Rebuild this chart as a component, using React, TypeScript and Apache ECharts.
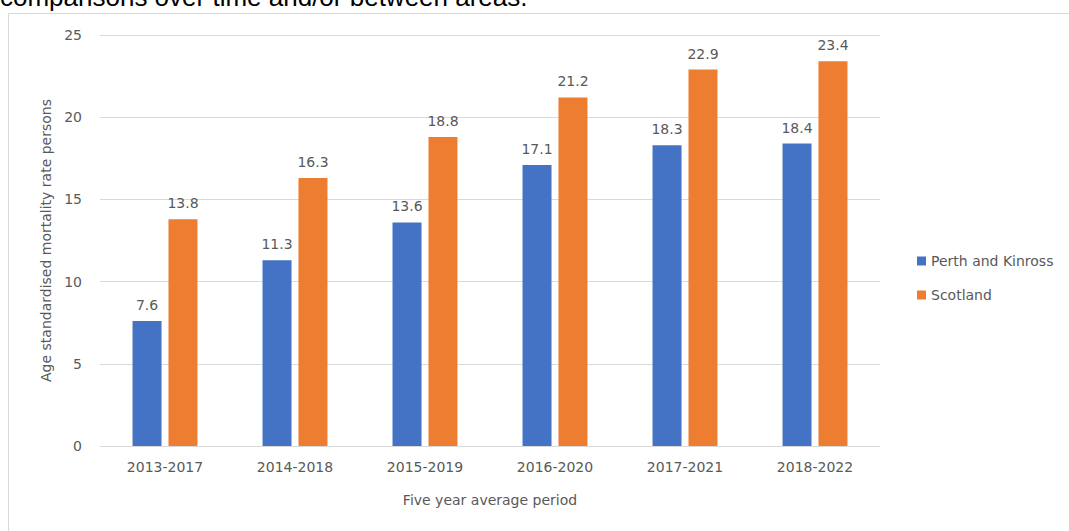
import React, { useEffect, useRef } from "react";
import * as echarts from "echarts";

const categories = ["2013-2017", "2014-2018", "2015-2019", "2016-2020", "2017-2021", "2018-2022"];
const perthKinross = [7.6, 11.3, 13.6, 17.1, 18.3, 18.4];
const scotland = [13.8, 16.3, 18.8, 21.2, 22.9, 23.4];
const seriesNames = ["Perth and Kinross", "Scotland"];
const headingText = "comparisons over time and/or between areas.";

export default function App() {
  const ref = useRef<HTMLDivElement>(null);
  useEffect(() => {
    if (!ref.current) return;
    const chart = echarts.init(ref.current, null, { renderer: "svg" });
    const font = "'DejaVu Sans', sans-serif";
    const labelStyle = { color: "#595959", fontSize: 14, fontFamily: font };
    chart.setOption({
      animation: false,
      backgroundColor: "#ffffff",
      textStyle: { fontFamily: font },
      graphic: [
        {
          type: "rect",
          shape: { x: 8.5, y: 13.5, width: 1100, height: 600 },
          style: { fill: "none", stroke: "#d9d9d9", lineWidth: 1 },
          silent: true,
        },
        {
          type: "text",
          x: 0,
          y: 10,
          style: {
            text: headingText,
            font: "26px 'Liberation Sans', Arial, sans-serif",
            fill: "#000000",
            textVerticalAlign: "bottom",
          },
        },
      ],
      legend: {
        orient: "vertical",
        left: 912,
        top: 249,
        itemWidth: 9,
        itemHeight: 9,
        itemGap: 20,
        icon: "rect",
        textStyle: labelStyle,
        data: seriesNames,
      },
      grid: { left: 100, right: 189, top: 35, bottom: 85 },
      xAxis: {
        type: "category",
        data: categories,
        axisLine: { lineStyle: { color: "#d9d9d9" } },
        axisTick: { show: false },
        axisLabel: { ...labelStyle, margin: 14 },
        name: "Five year average period",
        nameLocation: "middle",
        nameGap: 47,
        nameTextStyle: labelStyle,
      },
      yAxis: {
        type: "value",
        min: 0,
        max: 25,
        interval: 5,
        axisLine: { show: false },
        axisTick: { show: false },
        splitLine: { lineStyle: { color: "#d9d9d9" } },
        axisLabel: { ...labelStyle, margin: 18 },
        name: "Age standardised mortality rate persons",
        nameLocation: "middle",
        nameGap: 46,
        nameRotate: 90,
        nameTextStyle: labelStyle,
      },
      series: [
        {
          name: seriesNames[0],
          type: "bar",
          data: perthKinross,
          barWidth: 29,
          barGap: "24%",
          itemStyle: { color: "#4472C4" },
          label: { show: true, position: "top", distance: 9, ...labelStyle },
        },
        {
          name: seriesNames[1],
          type: "bar",
          data: scotland,
          barWidth: 29,
          barGap: "24%",
          itemStyle: { color: "#ED7D31" },
          label: { show: true, position: "top", distance: 9, ...labelStyle },
        },
      ],
    });
    return () => chart.dispose();
  }, []);
  return (
    <div
      ref={ref}
      style={{ position: "fixed", left: 0, top: 0, width: 1069, height: 531 }}
    />
  );
}
